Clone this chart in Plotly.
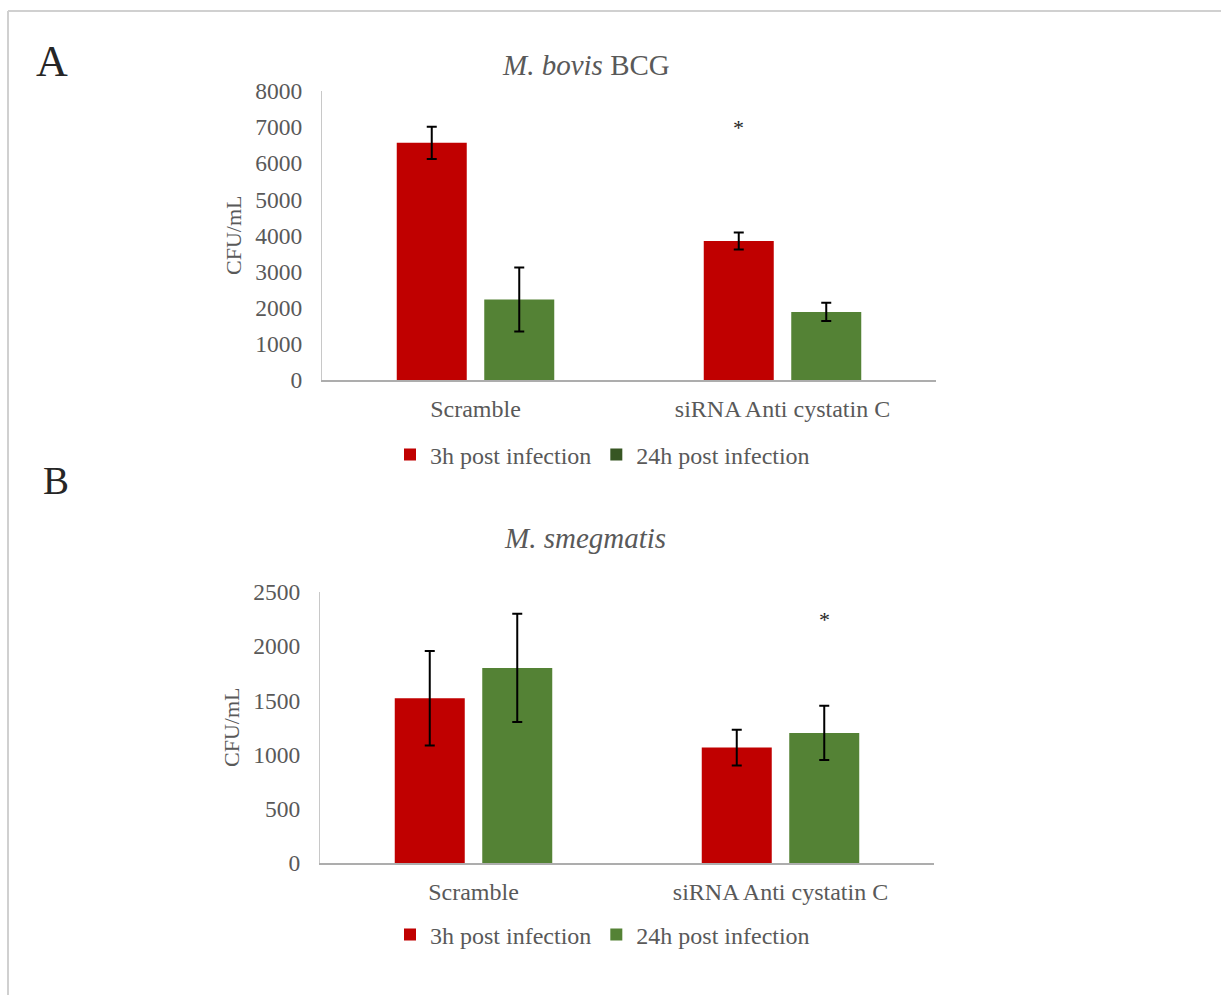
import plotly.graph_objects as go

# ---- data -------------------------------------------------------------
categories = ["Scramble", "siRNA Anti cystatin C"]
series_names = ["3h post infection", "24h post infection"]

bcg_3h = [6565, 3845]
bcg_3h_err = [445, 235]
bcg_24h = [2230, 1885]
bcg_24h_err = [885, 250]

smeg_3h = [1520, 1065]
smeg_3h_err = [435, 165]
smeg_24h = [1800, 1200]
smeg_24h_err = [500, 250]

bcg_ticks = [0, 1000, 2000, 3000, 4000, 5000, 6000, 7000, 8000]
smeg_ticks = [0, 500, 1000, 1500, 2000, 2500]

# significance markers: (category, series index, height)
bcg_star = ("siRNA Anti cystatin C", 0, 7060)
smeg_star = ("siRNA Anti cystatin C", 1, 2270)

# ---- style ------------------------------------------------------------
RED = "#C00000"
GREEN = "#548235"
DARK_GREEN = "#375623"
TEXT = "#595959"
FONT = "Liberation Serif, Times New Roman, serif"
W, H = 1221, 995


def px_x(v):
    return v / W


def px_y(v):
    return 1 - v / H


fig = go.Figure()


def add_bars(xa, ya, vals, errs, color, name, legend, show, group):
    fig.add_trace(go.Bar(
        x=categories, y=vals, name=name, xaxis=xa, yaxis=ya,
        offsetgroup=group,
        marker=dict(color=color, line=dict(width=0)),
        error_y=dict(type="data", array=errs, visible=True,
                     color="black", thickness=2, width=5),
        legend=legend, showlegend=show,
    ))


# panel A
add_bars("x", "y", bcg_3h, bcg_3h_err, RED, series_names[0], "legend", True, "h3")
add_bars("x", "y", bcg_24h, bcg_24h_err, GREEN, series_names[1], "legend", False, "h24")
# legend swatch for the 24h series in panel A uses the darker shade
fig.add_trace(go.Bar(x=[None], y=[None], name=series_names[1], xaxis="x", yaxis="y",
                     offsetgroup="h24", marker=dict(color=DARK_GREEN),
                     legend="legend", showlegend=True))

# panel B
add_bars("x2", "y2", smeg_3h, smeg_3h_err, RED, series_names[0], "legend2", True, "h3")
add_bars("x2", "y2", smeg_24h, smeg_24h_err, GREEN, series_names[1], "legend2", True, "h24")

xaxis_common = dict(
    type="category", range=[-0.5, 1.5], showgrid=False, zeroline=False,
    showline=True, linecolor="#ADADAD", linewidth=1.5, ticks="",
    tickfont=dict(family=FONT, size=24, color=TEXT), ticklabelstandoff=6,
    fixedrange=True, automargin=False,
)
yaxis_common = dict(
    showgrid=False, zeroline=False, showline=True, linecolor="#C8C8C8",
    linewidth=1, ticks="", tickfont=dict(family=FONT, size=23.5, color=TEXT),
    ticklabelstandoff=14, fixedrange=True, automargin=False,
)

legend_common = dict(
    orientation="h", x=px_x(390), xanchor="left", yanchor="middle",
    font=dict(family=FONT, size=24, color=TEXT), bgcolor="rgba(0,0,0,0)",
    traceorder="normal",
)

fig.update_layout(
    template="none",
    width=W, height=H,
    margin=dict(l=0, r=0, t=0, b=0, pad=0, autoexpand=False),
    paper_bgcolor="white", plot_bgcolor="white",
    barmode="group", bargap=0.43, bargroupgap=0.2,
    font=dict(family=FONT, color=TEXT),
    xaxis=dict(domain=[px_x(322), px_x(936)], anchor="y", **xaxis_common),
    yaxis=dict(domain=[px_y(380), px_y(91)], anchor="x", range=[0, 8000],
               tickvals=bcg_ticks, **yaxis_common),
    xaxis2=dict(domain=[px_x(320), px_x(934)], anchor="y2", **xaxis_common),
    yaxis2=dict(domain=[px_y(863), px_y(592)], anchor="x2", range=[0, 2500],
                tickvals=smeg_ticks, **yaxis_common),
    legend=dict(y=px_y(455), **legend_common),
    legend2=dict(y=px_y(935), **legend_common),
    showlegend=True,
)

annotations = [
    # panel letters
    dict(text="A", x=px_x(52), y=px_y(62), font=dict(family=FONT, size=44, color="#262626")),
    dict(text="B", x=px_x(56), y=px_y(480), font=dict(family=FONT, size=39, color="#262626")),
    # titles
    dict(text="<i>M. bovis</i> BCG", x=px_x(586), y=px_y(65),
         font=dict(family=FONT, size=29, color=TEXT)),
    dict(text="<i>M. smegmatis</i>", x=px_x(585), y=px_y(538),
         font=dict(family=FONT, size=29, color=TEXT)),
    # axis titles
    dict(text="CFU/mL", x=px_x(233), y=px_y(236), textangle=-90,
         font=dict(family=FONT, size=22, color=TEXT)),
    dict(text="CFU/mL", x=px_x(231), y=px_y(728), textangle=-90,
         font=dict(family=FONT, size=22, color=TEXT)),
]
for a in annotations:
    a.update(xref="paper", yref="paper", showarrow=False,
             xanchor="center", yanchor="middle")

# significance asterisks, placed over the relevant bar of each group
for (cat, idx, yv), xr, yr in [(bcg_star, "x", "y"), (smeg_star, "x2", "y2")]:
    annotations.append(dict(
        text="*", x=cat, y=yv, xref=xr, yref=yr, showarrow=False,
        xshift=-44 if idx == 0 else 44, yshift=-3,
        font=dict(family=FONT, size=22, color="#262626"),
        xanchor="center", yanchor="middle",
    ))

fig.update_layout(annotations=annotations)

# page frame
fig.add_shape(type="line", xref="paper", yref="paper",
              x0=px_x(8), x1=1.0, y0=px_y(11), y1=px_y(11),
              line=dict(color="#D0D0D0", width=2))
fig.add_shape(type="line", xref="paper", yref="paper",
              x0=px_x(8), x1=px_x(8), y0=0, y1=px_y(11),
              line=dict(color="#D0D0D0", width=2))

fig.write_html("out.html", config={"displayModeBar": False})
